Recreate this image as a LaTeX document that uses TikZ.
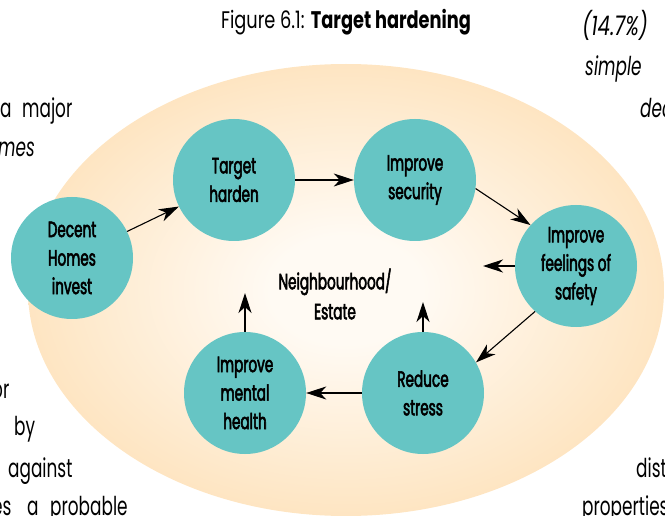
\documentclass[tikz,border=0pt]{standalone}
\usepackage{fontspec}
\setmainfont{Poppins}[FakeStretch=0.65]
\newfontfamily\nodefont{Poppins}[FakeStretch=0.62,FakeBold=2.4]
\newfontfamily\titlefont{Poppins}[FakeStretch=0.74]
\usetikzlibrary{arrows.meta}

\definecolor{stageteal}{HTML}{66C5C4}
\definecolor{peachout}{HTML}{FEE5C2}
\definecolor{peachin}{HTML}{FFFAF3}
\pgfdeclareradialshading{estateglow}{\pgfpoint{0bp}{0bp}}{%
  color(0bp)=(peachin); color(6bp)=(peachin); color(25bp)=(peachout); color(50bp)=(peachout)}

\tikzset{
  stage/.style={circle, fill=stageteal, minimum size=122pt, inner sep=0pt,
    align=center, font=\nodefont\fontsize{22}{28.5}\selectfont},
  flow/.style={-{Stealth[length=20pt,width=13pt,inset=6pt]}, line width=1.1pt},
  bodytext/.style={anchor=base west, inner sep=0pt, font=\fontsize{26}{39}\selectfont}
}

\begin{document}
\begin{tikzpicture}[x=1pt, y=-1pt]
  \useasboundingbox (0,0) rectangle (665,516);

  % Neighbourhood background
  \shade[shading=estateglow] (346,290) ellipse [x radius=318, y radius=226];

  % Title
  \node[anchor=base, inner sep=0pt, font=\titlefont\fontsize{24}{28}\selectfont] (title) at (346,29)
    {Figure 6.1: \textbf{Target hardening}};

  % Cycle stages
  \node[stage] (decent) at (72,258) {Decent\\Homes\\invest};
  \node[stage] (harden) at (234,180) {Target\\harden};
  \node[stage] (security) at (415,180) {Improve\\security};
  \node[stage] (safety) at (576,266) {Improve\\feelings of\\safety};
  \node[stage] (stress) at (423,393) {Reduce\\stress};
  \node[stage] (health) at (245,393) {Improve\\mental\\health};

  % Centre label
  \node[align=center, font=\nodefont\fontsize{22}{30}\selectfont] (estate) at (335,294) {Neighbourhood/\\Estate};
  \coordinate (safetytip) at (483,266);
  \coordinate (healthtip) at (245,293);
  \coordinate (stresstip) at (423,302);

  % Connectors
  \draw[flow] (decent) -- (harden);
  \draw[flow] (harden.east) -- (security.west);
  \draw[flow] (security.-8) -- (safety.138);
  \draw[flow] (safety.228) -- (stress.30);
  \draw[flow] (stress.west) -- (health.east);
  \draw[flow] (safety.west) -- (safetytip);
  \draw[flow] (health.north) -- (healthtip);
  \draw[flow] (stress.north) -- (stresstip);

  % Surrounding page text
  \node[bodytext] (tla) at (0,118) {a};
  \node[bodytext] (tlb) at (22,118) {major};
  \node[bodytext] (tlc) at (-2,157) {\itshape mes};
  \node[bodytext, font=\titlefont\fontsize{27}{39}\selectfont] (tra) at (582,36) {\itshape (14.7\%)};
  \node[bodytext] (trb) at (585,76) {\itshape simple};
  \node[bodytext] (trc) at (640,118) {\itshape dec};
  \node[bodytext] (bla) at (-8,398) {or};
  \node[bodytext] (blb) at (14,435) {by};
  \node[bodytext] (blc) at (8,477) {against};
  \node[bodytext] (bld) at (-8,515) {es};
  \node[bodytext] (ble) at (27,515) {a};
  \node[bodytext] (blf) at (50,515) {probable};
  \node[bodytext] (bra) at (636,477) {dist};
  \node[bodytext] (brb) at (582,515) {properties};
\end{tikzpicture}
\end{document}
